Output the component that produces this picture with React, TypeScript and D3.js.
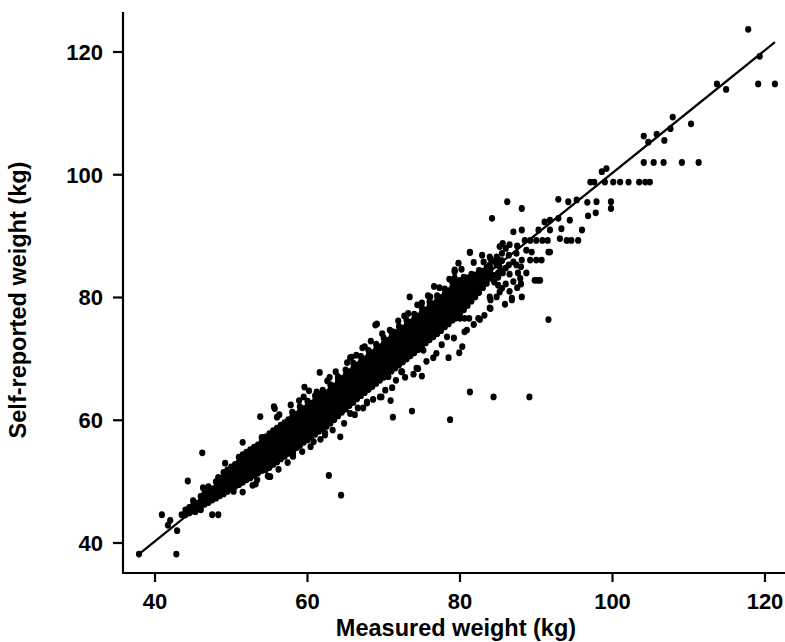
import React from "react";
import * as d3 from "d3";

// ---------- data ----------
const xTickValues = [40, 60, 80, 100, 120];
const yTickValues = [40, 60, 80, 100, 120];
const xTitle = "Measured weight (kg)";
const yTitle = "Self-reported weight (kg)";

// fitted line: reported = intercept + slope * measured, drawn over fitRange
const fitIntercept = 0.3;
const fitSlope = 1.0;
const fitRange = [37.9, 121.3];

// dense band: [measured, reported, reported, ...]
const bandColumns: number[][] = [
  [44.0, 44.6, 45.4],
  [44.5, 44.9, 45.8],
  [45.0, 45.2, 46.1, 46.9],
  [45.5, 45.6, 46.5],
  [46.0, 45.9, 46.8, 47.6],
  [46.5, 46.3, 47.2, 48.1],
  [47.0, 46.6, 47.5, 48.4, 49.2],
  [47.5, 47.0, 47.9, 48.8],
  [48.0, 47.3, 48.2, 49.1, 50.0],
  [48.5, 47.7, 48.6, 49.5, 50.4],
  [49.0, 48.0, 48.9, 49.8, 50.7, 51.5],
  [49.5, 48.4, 49.3, 50.2, 51.1, 51.9],
  [50.0, 48.8, 49.7, 50.6, 51.5, 52.4],
  [50.5, 49.2, 50.1, 51.0, 51.9, 52.8],
  [51.0, 49.5, 50.4, 51.4, 52.3, 53.2, 54.0],
  [51.5, 49.9, 50.8, 51.8, 52.7, 53.6, 54.4],
  [52.0, 50.3, 51.2, 52.1, 53.0, 53.9, 54.8],
  [52.5, 50.6, 51.6, 52.5, 53.4, 54.3, 55.2],
  [53.0, 51.0, 52.0, 52.9, 53.8, 54.7, 55.6],
  [53.5, 51.4, 52.3, 53.3, 54.2, 55.1, 56.0],
  [54.0, 51.8, 52.7, 53.7, 54.6, 55.5, 56.4, 57.2],
  [54.5, 51.9, 52.8, 53.8, 54.7, 55.6, 56.5, 57.3],
  [55.0, 52.3, 53.2, 54.2, 55.1, 56.0, 56.9, 57.8],
  [55.5, 52.8, 53.7, 54.6, 55.6, 56.5, 57.4, 58.3],
  [56.0, 53.2, 54.1, 55.1, 56.0, 56.9, 57.8, 58.7],
  [56.5, 53.7, 54.6, 55.5, 56.5, 57.4, 58.3, 59.2],
  [57.0, 54.1, 55.0, 56.0, 56.9, 57.8, 58.7, 59.6],
  [57.5, 54.6, 55.5, 56.4, 57.4, 58.3, 59.2, 60.1],
  [58.0, 55.0, 55.9, 56.9, 57.8, 58.7, 59.6, 60.5, 61.3],
  [58.5, 55.5, 56.4, 57.3, 58.3, 59.2, 60.1, 61.0],
  [59.0, 55.9, 56.8, 57.8, 58.7, 59.6, 60.5, 61.4, 62.2],
  [59.5, 56.4, 57.3, 58.2, 59.2, 60.1, 61.0, 61.9],
  [60.0, 56.8, 57.7, 58.7, 59.6, 60.5, 61.4, 62.3, 63.1],
  [60.5, 57.3, 58.2, 59.1, 60.1, 61.0, 61.9, 62.8],
  [61.0, 57.7, 58.6, 59.6, 60.5, 61.4, 62.3, 63.2, 64.0],
  [61.5, 58.2, 59.1, 60.0, 61.0, 61.9, 62.8, 63.7],
  [62.0, 58.6, 59.5, 60.5, 61.4, 62.3, 63.2, 64.1, 64.9],
  [62.5, 59.0, 60.0, 60.9, 61.8, 62.7, 63.6, 64.5],
  [63.0, 59.5, 60.4, 61.3, 62.3, 63.2, 64.1, 65.0, 65.8],
  [63.5, 60.1, 61.0, 62.0, 62.9, 63.8, 64.7, 65.6],
  [64.0, 60.7, 61.6, 62.6, 63.5, 64.4, 65.3, 66.2, 67.1],
  [64.5, 61.3, 62.2, 63.1, 64.1, 65.0, 65.9, 66.8],
  [65.0, 61.8, 62.7, 63.7, 64.6, 65.5, 66.4, 67.3, 68.2],
  [65.5, 62.4, 63.3, 64.2, 65.2, 66.1, 67.0, 67.9],
  [66.0, 62.9, 63.8, 64.8, 65.7, 66.6, 67.5, 68.4, 69.3],
  [66.5, 63.5, 64.4, 65.3, 66.3, 67.2, 68.1, 69.0],
  [67.0, 64.0, 64.9, 65.9, 66.8, 67.7, 68.6, 69.5, 70.4],
  [67.5, 64.5, 65.4, 66.3, 67.3, 68.2, 69.1, 70.0],
  [68.0, 65.0, 65.9, 66.9, 67.8, 68.7, 69.6, 70.5, 71.4],
  [68.5, 65.5, 66.4, 67.3, 68.3, 69.2, 70.1, 71.0],
  [69.0, 66.0, 66.9, 67.9, 68.8, 69.7, 70.6, 71.5, 72.4],
  [69.5, 66.5, 67.4, 68.3, 69.3, 70.2, 71.1, 72.0],
  [70.0, 67.0, 67.9, 68.9, 69.8, 70.7, 71.6, 72.5, 73.4],
  [70.5, 67.5, 68.4, 69.3, 70.3, 71.2, 72.1, 73.0],
  [71.0, 68.0, 68.9, 69.9, 70.8, 71.7, 72.6, 73.5, 74.4],
  [71.5, 68.5, 69.4, 70.3, 71.3, 72.2, 73.1, 74.0],
  [72.0, 69.0, 69.9, 70.9, 71.8, 72.7, 73.6, 74.5, 75.3],
  [72.5, 69.5, 70.4, 71.3, 72.3, 73.2, 74.1, 75.0],
  [73.0, 70.0, 70.9, 71.9, 72.8, 73.7, 74.6, 75.5, 76.3],
  [73.5, 70.5, 71.4, 72.3, 73.3, 74.2, 75.1, 76.0],
  [74.0, 71.0, 71.9, 72.9, 73.8, 74.7, 75.6, 76.5, 77.3],
  [74.5, 71.5, 72.4, 73.3, 74.3, 75.2, 76.1, 77.0],
  [75.0, 72.1, 73.0, 73.9, 74.8, 75.7, 76.6, 77.5, 78.3],
  [75.5, 72.6, 73.5, 74.4, 75.3, 76.2, 77.1, 78.0],
  [76.0, 73.1, 74.0, 74.9, 75.8, 76.7, 77.6, 78.5, 79.3],
  [76.5, 73.6, 74.5, 75.4, 76.3, 77.2, 78.1, 79.0],
  [77.0, 74.1, 75.0, 75.9, 76.8, 77.7, 78.6, 79.5, 80.3],
  [77.5, 74.6, 75.5, 76.4, 77.3, 78.2, 79.1, 80.0],
  [78.0, 75.2, 76.1, 77.0, 77.9, 78.8, 79.7, 80.6, 81.4],
  [78.5, 75.7, 76.6, 77.5, 78.4, 79.3, 80.2, 81.1],
  [79.0, 76.3, 77.2, 78.1, 79.0, 79.9, 80.8, 81.7, 82.5],
  [79.5, 76.8, 77.7, 78.6, 79.5, 80.4, 81.3, 82.2],
  [80.0, 77.4, 78.3, 79.2, 80.1, 81.0, 81.9, 82.8],
  [80.5, 78.0, 78.9, 79.8, 80.7, 81.6, 82.5, 83.3],
  [81.0, 78.7, 79.6, 80.5, 81.4, 82.3, 83.2],
  [81.5, 79.4, 80.3, 81.2, 82.1, 83.0, 83.8],
  [82.0, 80.1, 81.0, 81.9, 82.8, 83.7],
  [82.5, 80.8, 81.7, 82.6, 83.5, 84.4],
  [83.0, 81.6, 82.5, 83.4, 84.3],
  [83.5, 82.3, 83.2, 84.1, 84.9],
  [84.0, 83.1, 84.0, 84.8],
  [84.5, 82.5, 83.6, 85.9],
  [85.0, 82.0, 83.3, 86.2],
  [85.5, 81.5, 84.3, 86.0],
  [86.0, 82.2, 84.8, 88.0],
  [86.5, 81.0, 83.8, 88.6],
  [87.0, 82.6, 85.8],
  [87.5, 81.6, 88.4],
  [88.0, 82.2, 85.0],
];

// scattered points around the band: [measured, reported]
const scatterPoints: number[][] = [
  [37.9, 38.2], [42.8, 38.2], [40.9, 44.6], [42.0, 43.7], [41.7, 42.9], [42.9, 42.0],
  [43.5, 44.6], [44.3, 50.1], [46.2, 54.7], [46.3, 49.0], [48.3, 50.7], [47.5, 44.6],
  [48.3, 44.6], [45.3, 45.1], [46.0, 45.4], [51.5, 48.3], [50.3, 48.4], [51.5, 56.4],
  [53.8, 60.6], [53.4, 50.3], [55.0, 50.8], [55.6, 62.2], [57.8, 62.5], [56.8, 54.7],
  [58.1, 54.7], [58.6, 55.6], [54.0, 56.4], [56.0, 60.5], [49.2, 53.0], [52.8, 49.4],
  [55.7, 61.9], [59.5, 63.8], [61.2, 64.6], [61.4, 64.3], [64.0, 66.8], [65.8, 70.3],
  [67.5, 72.0], [69.1, 72.0], [70.4, 72.5], [71.3, 74.4], [65.6, 70.2], [62.6, 66.4],
  [55.1, 50.8], [58.1, 54.1], [60.8, 56.5], [62.3, 57.6], [64.3, 57.3], [65.6, 61.1],
  [67.8, 63.0], [69.7, 63.8], [72.4, 67.9], [74.3, 68.5], [75.2, 71.4], [62.3, 57.9],
  [67.8, 62.8], [69.5, 63.8], [70.6, 67.1], [72.3, 67.9], [74.5, 68.4], [76.5, 70.2],
  [78.5, 70.2], [78.3, 73.6], [80.3, 72.0], [80.9, 74.7], [82.6, 76.4], [84.0, 78.2],
  [84.0, 79.6], [85.2, 80.9], [86.8, 79.6], [88.1, 80.1], [66.6, 62.0], [71.6, 66.5],
  [70.8, 74.7], [72.5, 74.7], [73.4, 80.1], [76.1, 80.1], [75.0, 79.1], [79.3, 84.2],
  [79.3, 82.8], [81.3, 87.3], [83.1, 85.8], [84.0, 86.3], [85.2, 85.0],
  [77.0, 76.6], [77.6, 76.6], [78.2, 76.6], [78.8, 76.6], [79.4, 76.6], [80.0, 76.6],
  [80.6, 76.6], [81.2, 76.6],
  [62.8, 51.0], [64.4, 47.8], [71.2, 60.5], [73.7, 61.5], [78.7, 60.1], [81.3, 64.6],
  [84.4, 63.8], [89.1, 63.8], [91.6, 76.4], [61.6, 67.8], [69.1, 75.7], [68.9, 75.5],
  // ragged upper edge of the band
  [56.3, 60.9], [58.9, 63.2], [60.2, 64.8], [62.9, 67.0], [63.7, 67.9], [65.2, 69.4],
  [66.4, 70.6], [68.3, 72.9], [69.8, 74.1], [71.9, 76.2], [73.2, 77.4], [74.4, 78.8],
  [75.8, 80.3], [77.3, 81.6], [78.6, 83.0], [80.2, 84.6], [81.8, 85.7], [82.9, 86.9],
  [59.6, 65.4], [67.2, 71.8], [72.7, 77.0], [76.6, 81.8], [79.8, 85.6],
  // ragged lower edge of the band
  [53.2, 49.6], [54.8, 50.9], [56.2, 52.0], [57.4, 53.1], [59.3, 54.9], [60.4, 55.7],
  [61.7, 56.9], [63.3, 58.4], [64.8, 59.5], [66.2, 60.9], [67.3, 62.0], [68.6, 63.4],
  [70.2, 64.9], [71.1, 65.3], [72.8, 67.0], [73.9, 67.5], [75.6, 69.6], [76.9, 70.9],
  [77.6, 72.3], [79.2, 73.4], [80.6, 74.4], [81.8, 75.6], [83.2, 77.1], [85.9, 78.9],
  [79.9, 71.0], [75.0, 67.2], [70.9, 63.2],
];

// upper range (heavier people): [measured, reported]
const upperPoints: number[][] = [
  [117.8, 123.7], [119.3, 119.3], [119.1, 114.8], [121.3, 114.8], [113.7, 114.8],
  [114.9, 113.9], [107.9, 109.4], [107.6, 107.5], [106.8, 105.6], [110.3, 108.3],
  [104.1, 106.3], [104.7, 105.3], [105.8, 106.6],
  [104.1, 102.0], [105.4, 102.0], [106.7, 102.0], [109.1, 102.0], [111.3, 102.0],
  [97.1, 98.8], [97.6, 98.8], [99.0, 98.8], [100.1, 98.8], [101.0, 98.8], [102.1, 98.8],
  [103.5, 98.8], [104.3, 98.8], [104.9, 98.8], [98.6, 100.5], [99.2, 101.0],
  [92.9, 96.0], [94.2, 95.6], [95.3, 95.9], [96.7, 95.5], [97.9, 95.6], [99.8, 95.6],
  [99.8, 94.5], [96.8, 93.3], [97.8, 93.8], [86.2, 95.6], [88.1, 94.5], [84.2, 92.9],
  [92.9, 92.9], [91.1, 92.3], [91.8, 92.6], [94.4, 92.6], [96.0, 91.0], [93.3, 91.2],
  [94.0, 89.3], [94.6, 89.3], [95.5, 89.3], [93.1, 89.6], [87.0, 90.7], [88.1, 91.0],
  [90.3, 91.0], [91.8, 91.0],
  [88.5, 89.3], [89.2, 89.3], [90.0, 89.3], [90.8, 89.3], [91.5, 89.3],
  [91.8, 87.4], [90.7, 86.1], [90.0, 86.1], [88.1, 86.1], [89.2, 86.1], [91.6, 87.4],
  [81.3, 87.4], [85.2, 88.3], [85.6, 88.8], [85.5, 87.2], [83.9, 86.6], [84.8, 86.6],
  [86.4, 86.9], [87.4, 87.2], [88.7, 87.7], [89.4, 87.4],
  [83.9, 85.3], [84.8, 85.3], [86.4, 85.3], [87.4, 85.3],
  [85.0, 84.0], [85.6, 84.0], [87.6, 84.0], [88.7, 84.0],
  [87.9, 83.1], [89.8, 82.8], [90.2, 82.8], [90.5, 82.8], [86.8, 79.9], [83.9, 80.1],
  [84.8, 80.1], [79.3, 84.5], [79.3, 83.2], [82.4, 76.6], [83.9, 78.3],
];

// ---------- chart ----------
const W = 785;
const H = 642;
const axisLeft = 123;
const axisBottom = 573;
const axisTop = 12;
const axisRight = 785;
const FONT = "'Liberation Sans', Arial, Helvetica, sans-serif";

export default function App() {
  const x = d3.scaleLinear().domain([40, 120]).range([155, 765]);
  const y = d3.scaleLinear().domain([40, 120]).range([543, 52]);

  const points: number[][] = [];
  bandColumns.forEach((col) => {
    for (let i = 1; i < col.length; i++) points.push([col[0], col[i]]);
  });
  scatterPoints.forEach((p) => points.push(p));
  upperPoints.forEach((p) => points.push(p));

  const line = d3
    .line<number>()
    .x((d) => x(d))
    .y((d) => y(fitIntercept + fitSlope * d));

  return (
    <svg
      width={W}
      height={H}
      viewBox={`0 0 ${W} ${H}`}
      style={{ position: "absolute", left: 0, top: 0, background: "#fff" }}
    >
      <rect x={0} y={0} width={W} height={H} fill="#fff" />
      {/* points */}
      <g fill="#000">
        {points.map((p, i) => (
          <ellipse key={i} cx={x(p[0])} cy={y(p[1])} rx={3.1} ry={3.4} />
        ))}
      </g>
      {/* fitted line */}
      <path d={line(fitRange) || ""} fill="none" stroke="#000" strokeWidth={2.2} />
      {/* axes */}
      <g stroke="#000" strokeWidth={2.2} fill="none">
        <line x1={axisLeft} x2={axisLeft} y1={axisTop} y2={axisBottom + 1} />
        <line x1={axisLeft - 1} x2={axisRight} y1={axisBottom} y2={axisBottom} />
        {xTickValues.map((t) => (
          <line key={"xt" + t} x1={x(t)} x2={x(t)} y1={axisBottom} y2={axisBottom + 9} />
        ))}
        {yTickValues.map((t) => (
          <line key={"yt" + t} x1={axisLeft - 10} x2={axisLeft} y1={y(t)} y2={y(t)} />
        ))}
      </g>
      <g fontFamily={FONT} fontWeight="bold" fontSize={22} fill="#000">
        {xTickValues.map((t) => (
          <text key={"xl" + t} x={x(t)} y={609} textAnchor="middle">
            {t}
          </text>
        ))}
        {yTickValues.map((t) => (
          <text key={"yl" + t} x={103} y={y(t)} dy="0.36em" textAnchor="end">
            {t}
          </text>
        ))}
      </g>
      <text
        x={456}
        y={636}
        textAnchor="middle"
        fontFamily={FONT}
        fontWeight="bold"
        fontSize={23.5}
        fill="#000"
      >
        {xTitle}
      </text>
      <text
        transform={`translate(26,300) rotate(-90)`}
        textAnchor="middle"
        fontFamily={FONT}
        fontWeight="bold"
        fontSize={23.5}
        fill="#000"
      >
        {yTitle}
      </text>
    </svg>
  );
}
